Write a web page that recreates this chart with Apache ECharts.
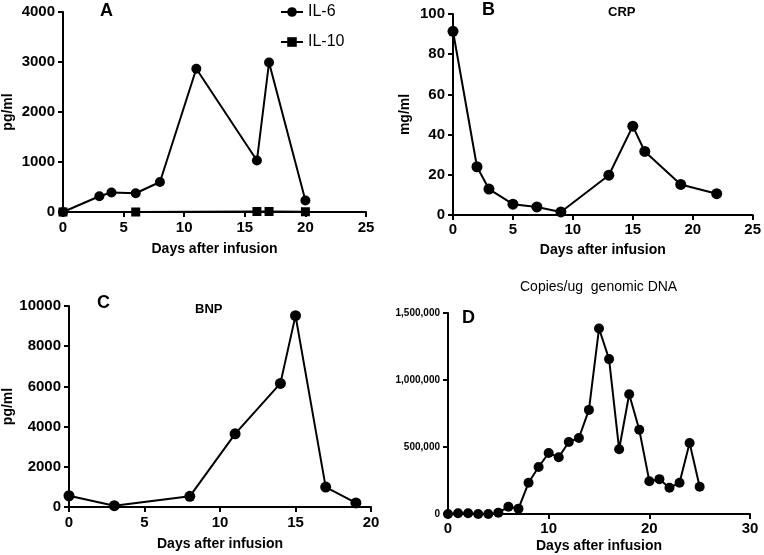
<!DOCTYPE html>
<html>
<head>
<meta charset="utf-8">
<script src="https://cdn.jsdelivr.net/npm/echarts@6/dist/echarts.min.js"></script>
<style>html,body{margin:0;padding:0;background:#fff;}#c{width:764px;height:555px;}</style>
</head>
<body>
<div id="c"></div>
<script>
// Panel A
const aIL6Days = [0, 3, 4, 6, 8, 11, 16, 17, 20];
const aIL6Vals = [0, 315, 390, 375, 600, 2865, 1030, 2990, 230];
const aIL10Days = [0, 6, 16, 17, 20];
const aIL10Vals = [0, 0, 10, 10, 5];
const aXTicks = [0, 5, 10, 15, 20, 25];
const aYTicks = [0, 1000, 2000, 3000, 4000];
// Panel B (CRP)
const bDays = [0, 2, 3, 5, 7, 9, 13, 15, 16, 19, 22];
const bVals = [91.4, 24, 12.9, 5.4, 4, 1.5, 19.8, 44.2, 31.6, 15.2, 10.6];
const bXTicks = [0, 5, 10, 15, 20, 25];
const bYTicks = [0, 20, 40, 60, 80, 100];
// Panel C (BNP)
const cDays = [0, 3, 8, 11, 14, 15, 17, 19];
const cVals = [560, 66, 530, 3640, 6150, 9520, 990, 200];
const cXTicks = [0, 5, 10, 15, 20];
const cYTicks = [0, 2000, 4000, 6000, 8000, 10000];
// Panel D (copies/ug genomic DNA)
const dDays = [0,1,2,3,4,5,6,7,8,9,10,11,12,13,14,15,16,17,18,19,20,21,22,23,24,25];
const dVals = [0,5000,5000,0,0,10000,54000,40000,233000,351000,455000,423000,537000,567000,777000,1384000,1156000,483000,894000,629000,245000,260000,196000,233000,530000,203000];
const dXTicks = [0, 10, 20, 30];
const dYTicks = [0, 500000, 1000000, 1500000];

const FONT = "'Liberation Sans', Arial, sans-serif";
const pairs = (xs, ys) => xs.map((x, i) => [x, ys[i]]);
const plain = v => String(v);

function xAx(idx, ticks, labelMargin, nameGap) {
  return {
    type: 'value', gridIndex: idx,
    min: ticks[0], max: ticks[ticks.length - 1], interval: ticks[1] - ticks[0],
    name: 'Days after infusion', nameLocation: 'middle', nameGap: nameGap,
    nameTextStyle: {color: '#000', fontWeight: 'bold', fontSize: 14, fontFamily: FONT},
    splitLine: {show: false},
    axisLine: {show: true, onZero: false, lineStyle: {color: '#000', width: 2}},
    axisTick: {show: true, length: 5, lineStyle: {color: '#000', width: 2}},
    axisLabel: {color: '#000', fontWeight: 'bold', fontSize: 15, fontFamily: FONT, margin: labelMargin, formatter: plain}
  };
}
function yAx(idx, ticks, name, nameGap, fontSize, fmt) {
  return {
    type: 'value', gridIndex: idx,
    min: ticks[0], max: ticks[ticks.length - 1], interval: ticks[1] - ticks[0],
    name: name, nameLocation: 'middle', nameGap: nameGap,
    nameTextStyle: {color: '#000', fontWeight: 'bold', fontSize: 14, fontFamily: FONT},
    splitLine: {show: false},
    axisLine: {show: true, onZero: false, lineStyle: {color: '#000', width: 2}},
    axisTick: {show: true, length: 5, lineStyle: {color: '#000', width: 2}},
    axisLabel: {color: '#000', fontWeight: 'bold', fontSize: fontSize, fontFamily: FONT, margin: 8, formatter: fmt}
  };
}
function ser(name, idx, data, symbol, size) {
  return {
    name: name, type: 'line', xAxisIndex: idx, yAxisIndex: idx,
    data: data, symbol: symbol, symbolSize: size, clip: false,
    itemStyle: {color: '#000'}, lineStyle: {color: '#000', width: 2},
    emphasis: {disabled: true}, animation: false
  };
}
const tStyle = (size, weight) => ({color: '#000', fontSize: size, fontWeight: weight, fontFamily: FONT});

const chart = echarts.init(document.getElementById('c'), null, {renderer: 'canvas'});
chart.setOption({
  animation: false,
  backgroundColor: '#fff',
  title: [
    {text: 'A', left: 100, top: 2, padding: 0, textStyle: tStyle(18, 'bold')},
    {text: 'B', left: 482, top: 1, padding: 0, textStyle: tStyle(18, 'bold')},
    {text: 'CRP', left: 608, top: 6, padding: 0, textStyle: tStyle(13, 'bold')},
    {text: 'C', left: 97, top: 294, padding: 0, textStyle: tStyle(18, 'bold')},
    {text: 'BNP', left: 195, top: 303, padding: 0, textStyle: tStyle(13, 'bold')},
    {text: 'D', left: 462, top: 309, padding: 0, textStyle: tStyle(18, 'bold')},
    {text: 'Copies/ug  genomic DNA', left: 520, top: 280, padding: 0, textStyle: tStyle(14, 'normal')}
  ],
  legend: {
    orient: 'vertical', left: 280, top: 4, padding: 0,
    itemWidth: 22, itemHeight: 12, itemGap: 14,
    data: ['IL-6', 'IL-10'],
    textStyle: {color: '#000', fontSize: 16, fontFamily: FONT}
  },
  grid: [
    {left: 63, top: 12, width: 303, height: 200},
    {left: 453, top: 14, width: 303, height: 201},
    {left: 69, top: 306, width: 302, height: 201},
    {left: 448, top: 313, width: 302, height: 201}
  ],
  xAxis: [
    xAx(0, aXTicks, 8, 30),
    xAx(1, bXTicks, 7, 28),
    xAx(2, cXTicks, 8, 30),
    xAx(3, dXTicks, 7, 25)
  ],
  yAxis: [
    yAx(0, aYTicks, 'pg/ml', 48, 15, plain),
    yAx(1, bYTicks, 'mg/ml', 41, 15, plain),
    yAx(2, cYTicks, 'pg/ml', 54, 15, plain),
    yAx(3, dYTicks, '', 40, 10, v => v.toLocaleString('en-US'))
  ],
  series: [
    ser('IL-6', 0, pairs(aIL6Days, aIL6Vals), 'circle', 10),
    ser('IL-10', 0, pairs(aIL10Days, aIL10Vals), 'rect', 9),
    ser('CRP', 1, pairs(bDays, bVals), 'circle', 11),
    ser('BNP', 2, pairs(cDays, cVals), 'circle', 11),
    ser('DNA', 3, pairs(dDays, dVals), 'circle', 10)
  ]
});
</script>
</body>
</html>
